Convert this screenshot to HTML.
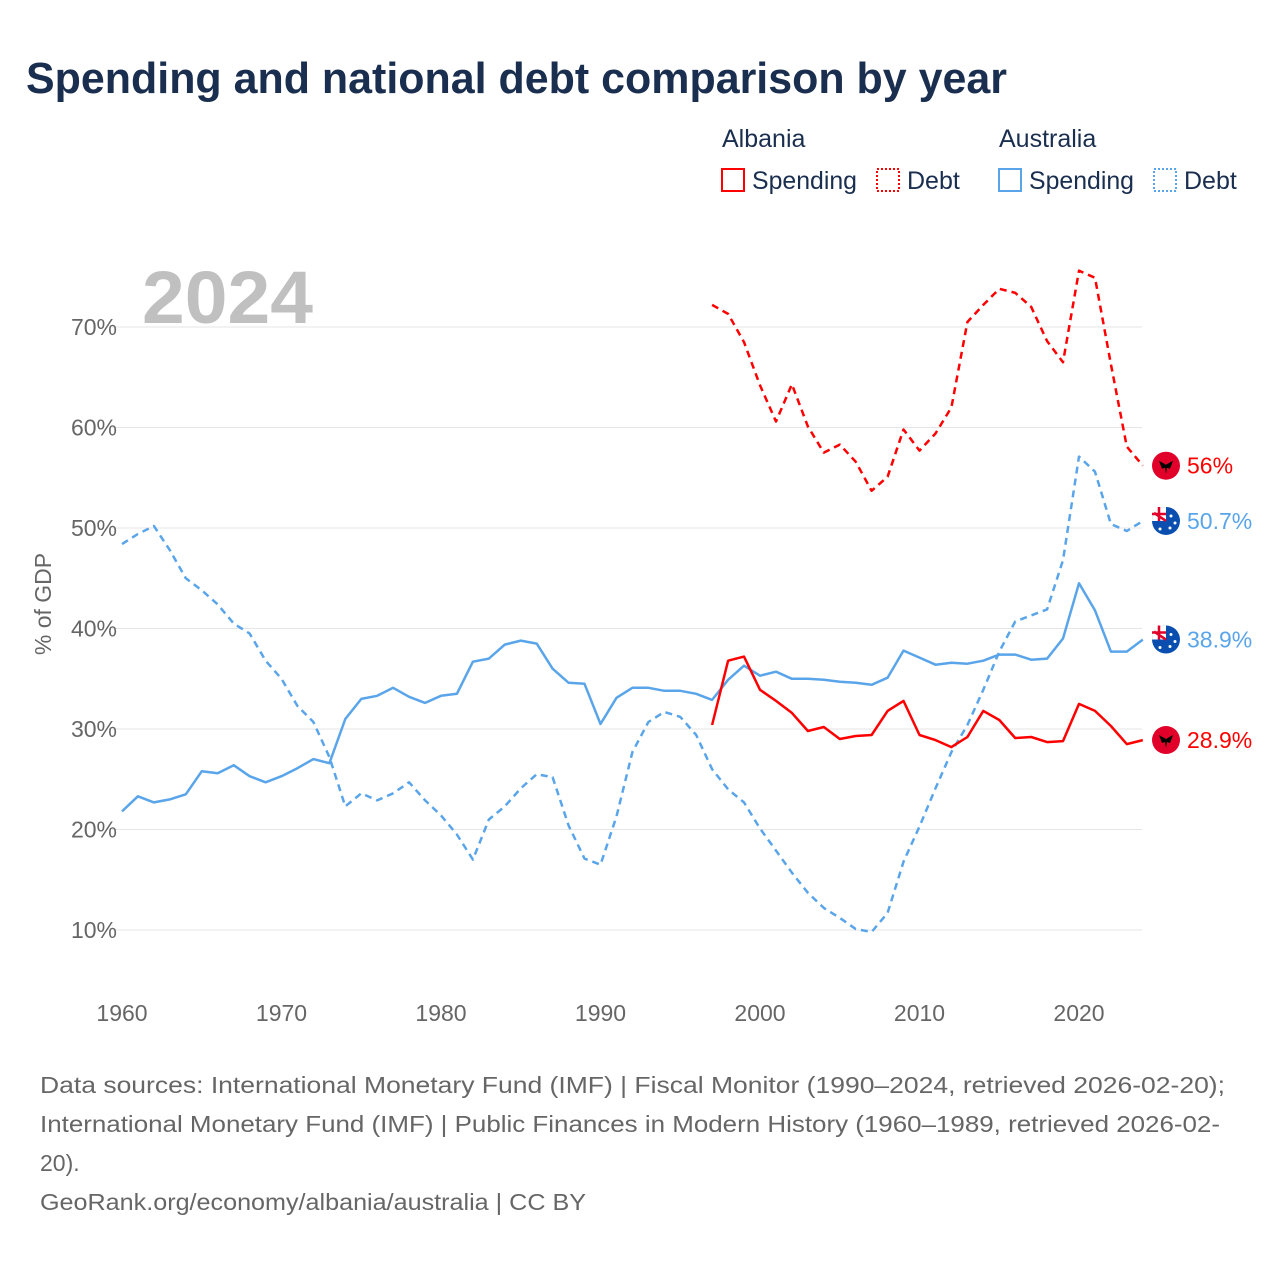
<!DOCTYPE html>
<html><head><meta charset="utf-8"><style>
body{margin:0;background:#fff;font-family:"Liberation Sans",sans-serif;}
#wrap{position:relative;width:1280px;height:1280px;overflow:hidden;}
svg{position:absolute;left:0;top:0;}
</style></head><body>
<div id="wrap">
<svg id="chart" width="1280" height="1280">
<text x="26" y="93" font-size="44" font-weight="bold" fill="#1a2e4f" textLength="981" lengthAdjust="spacingAndGlyphs">Spending and national debt comparison by year</text>
<g font-size="25" fill="#1a2e4f">
<text x="722" y="147">Albania</text>
<text x="999" y="147">Australia</text>
<g><rect x="722" y="169" width="22" height="22" fill="none" stroke="#ff0000" stroke-width="2"/><text x="752" y="189" textLength="105" lengthAdjust="spacingAndGlyphs">Spending</text></g>
<g><rect x="877" y="169" width="22" height="22" fill="none" stroke="#ff0000" stroke-width="2" stroke-dasharray="2,2"/><text x="907" y="189">Debt</text></g>
<g><rect x="999" y="169" width="22" height="22" fill="none" stroke="#5aa5ea" stroke-width="2"/><text x="1029" y="189" textLength="105" lengthAdjust="spacingAndGlyphs">Spending</text></g>
<g><rect x="1154" y="169" width="22" height="22" fill="none" stroke="#5aa5ea" stroke-width="2" stroke-dasharray="2,2"/><text x="1184" y="189">Debt</text></g>
</g>
<text x="142" y="323" font-size="74" font-weight="bold" fill="#c0c0c0" textLength="171" lengthAdjust="spacingAndGlyphs">2024</text>
<text transform="translate(51,604) rotate(-90)" text-anchor="middle" font-size="23" fill="#666">% of GDP</text>
<g id="grid"></g><g id="series"></g><g id="ends"></g>
<g font-size="23" fill="#666">
<text x="40" y="1093" textLength="1185" lengthAdjust="spacingAndGlyphs">Data sources: International Monetary Fund (IMF) | Fiscal Monitor (1990–2024, retrieved 2026-02-20);</text>
<text x="40" y="1132" textLength="1180" lengthAdjust="spacingAndGlyphs">International Monetary Fund (IMF) | Public Finances in Modern History (1960–1989, retrieved 2026-02-</text>
<text x="40" y="1171">20).</text>
<text x="40" y="1210" textLength="546" lengthAdjust="spacingAndGlyphs">GeoRank.org/economy/albania/australia | CC BY</text>
</g>
</svg></div>
<script>
const yTicks=[10,20,30,40,50,60,70];
const xTicks=[1960,1970,1980,1990,2000,2010,2020];
const ausYears0=1960;
const ausSpending=[21.8,23.3,22.7,23.0,23.5,25.8,25.6,26.4,25.3,24.7,25.3,26.1,27.0,26.6,31.0,33.0,33.3,34.1,33.2,32.6,33.3,33.5,36.7,37.0,38.4,38.8,38.5,36.0,34.6,34.5,30.5,33.1,34.1,34.1,33.8,33.8,33.5,32.9,34.9,36.3,35.3,35.7,35.0,35.0,34.9,34.7,34.6,34.4,35.1,37.8,37.1,36.4,36.6,36.5,36.8,37.4,37.4,36.9,37.0,39.0,44.5,41.8,37.7,37.7,38.9];
const ausDebt=[48.4,49.4,50.2,47.8,45.0,43.8,42.4,40.5,39.5,36.8,35.0,32.3,30.7,27.2,22.3,23.6,22.9,23.6,24.7,22.9,21.4,19.5,17.0,21.0,22.3,24.1,25.5,25.2,20.4,17.1,16.5,21.3,27.7,30.7,31.7,31.2,29.4,26.0,24.0,22.7,20.1,17.9,15.7,13.7,12.2,11.2,10.1,9.8,11.7,16.8,20.3,24.1,27.7,30.4,33.9,37.7,40.7,41.3,41.9,46.8,57.1,55.6,50.4,49.7,50.7];
const albYears0=1997;
const albSpending=[30.4,36.8,37.2,33.9,32.8,31.6,29.8,30.2,29.0,29.3,29.4,31.8,32.8,29.4,28.9,28.2,29.2,31.8,30.9,29.1,29.2,28.7,28.8,32.5,31.8,30.3,28.5,28.9];
const albDebt=[72.2,71.3,68.5,64.2,60.6,64.3,60.1,57.5,58.3,56.6,53.7,55.1,59.8,57.7,59.4,62.0,70.5,72.2,73.8,73.4,72.0,68.6,66.5,75.6,74.9,66.3,58.1,56.2];
const endLabels=["56%","50.7%","38.9%","28.9%"];

const NS="http://www.w3.org/2000/svg";
const X=yr=>122+(yr-1960)*(1079-122)/60;
const Y=v=>930-(v-10)*(930-327)/60;
function mk(t,a,p){const e=document.createElementNS(NS,t);for(const k in a)e.setAttribute(k,a[k]);p.appendChild(e);return e;}
const grid=document.getElementById('grid');
yTicks.forEach(v=>{
 const l=mk('line',{x1:112,x2:1142,y1:Y(v),y2:Y(v),stroke:'#e6e6e6','stroke-width':1},grid);
 
 
 const t=mk('text',{x:117,y:Y(v)+8,'text-anchor':'end','font-size':23,fill:'#666'},grid);
 t.textContent=v+'%';
 
 
});
xTicks.forEach(yr=>{
 const t=mk('text',{x:X(yr),y:1021,'text-anchor':'middle','font-size':23,fill:'#666'},grid);
 t.textContent=yr;
 
 
});
const ser=document.getElementById('series');
function line(vals,y0,color,dash,name){
 const pts=vals.map((v,i)=>X(y0+i).toFixed(1)+','+Y(v).toFixed(1)).join(' ');
 const p=mk('polyline',{points:pts,fill:'none',stroke:color,'stroke-width':2.5,'stroke-linejoin':'round'},ser);
 if(dash)p.setAttribute('stroke-dasharray','7,5');
 
 
}
line(ausDebt,ausYears0,'#5aa5ea',true,'australia-debt-line');
line(ausSpending,ausYears0,'#5aa5ea',false,'australia-spending-line');
line(albDebt,albYears0,'#ff0000',true,'albania-debt-line');
line(albSpending,albYears0,'#ff0000',false,'albania-spending-line');
const ends=document.getElementById('ends');
const endVals=[albDebt[albDebt.length-1],ausDebt[ausDebt.length-1],ausSpending[ausSpending.length-1],albSpending[albSpending.length-1]];
const endCountry=['alb','aus','aus','alb'];
endVals.forEach((v,i)=>{
 const cy=Y(v),cx=1166;
 const g=mk('g',{},ends);
 
 
 if(endCountry[i]==='alb'){
  mk('circle',{cx:cx,cy:cy,r:14,fill:'#e0002a'},g);
  mk('path',{d:`M${cx-7},${cy-5} L${cx},${cy-1} L${cx+7},${cy-5} L${cx+4},${cy+3} L${cx+1},${cy+2} L${cx},${cy+8} L${cx-1},${cy+2} L${cx-4},${cy+3} Z`,fill:'#000'},g);
 }else{
  mk('circle',{cx:cx,cy:cy,r:14,fill:'#0a4fb0'},g);
  mk('path',{d:`M${cx-14},${cy} A14,14 0 0 1 ${cx},${cy-14} L${cx},${cy} Z`,fill:'#fff'},g);
  mk('path',{d:`M${cx-12},${cy-8} L${cx},${cy} M${cx-7},${cy-14} L${cx-7},${cy} M${cx-14},${cy-7} L${cx},${cy-7}`,stroke:'#e0002a','stroke-width':2.5},g);
  [[5,-5],[9,2],[4,7],[-6,8]].forEach(s=>mk('circle',{cx:cx+s[0],cy:cy+s[1],r:1.5,fill:'#fff'},g));
 }
 const t=mk('text',{x:1187,y:cy+8,'font-size':23,fill:endCountry[i]==='alb'?'#ff0000':'#5aa5ea'},ends);
 t.textContent=endLabels[i];
 
 
});
</script>
</body></html>
